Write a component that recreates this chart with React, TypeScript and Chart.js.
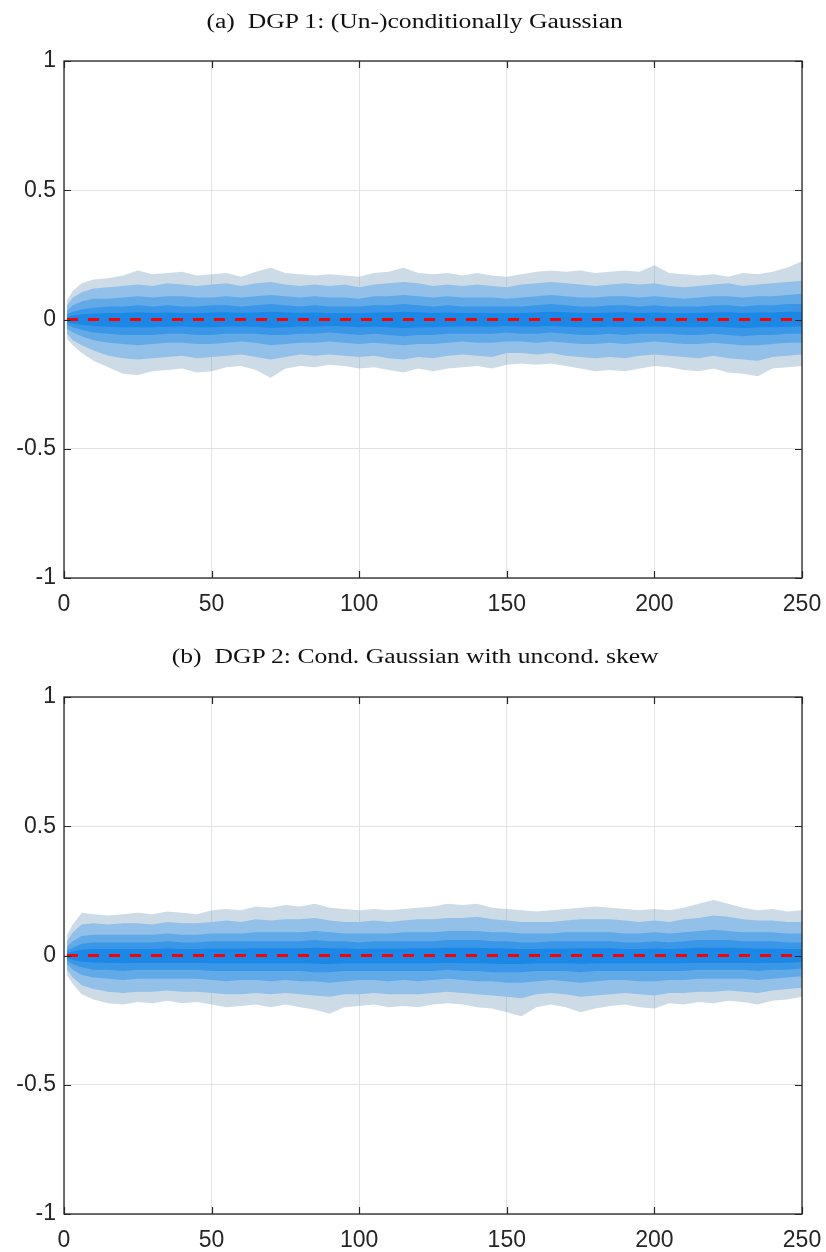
import React, { useEffect, useRef } from "react";
import { Chart, registerables } from "chart.js";

Chart.register(...registerables);

// ---------- data ----------
const T = [
  1, 3, 6, 10,
  15, 20, 25, 30, 35, 40, 45, 50,
  55, 60, 65, 70, 75, 80, 85, 90,
  95, 100, 105, 110, 115, 120, 125, 130,
  135, 140, 145, 150, 155, 160, 165, 170,
  175, 180, 185, 190, 195, 200, 205, 210,
  215, 220, 225, 230, 235, 240, 245, 250,
];
const X_TICKS = [0, 50, 100, 150, 200, 250];
const Y_TICKS = [-1, -0.5, 0, 0.5, 1];
const Y_TICK_LABELS = ["-1", "-0.5", "0", "0.5", "1"];
const TRUE_VALUE = 0;
const TITLE_A = "(a)  DGP 1: (Un-)conditionally Gaussian";
const TITLE_B = "(b)  DGP 2: Cond. Gaussian with uncond. skew";

// Panel (a): quantile band edges (inner 40/60 ... outer 5/95)
const A_U5 = [0.075, 0.11, 0.14, 0.155,
  0.16, 0.17, 0.19, 0.175, 0.18, 0.185, 0.17, 0.175,
  0.18, 0.165, 0.185, 0.2, 0.18, 0.175, 0.17, 0.175,
  0.17, 0.165, 0.18, 0.185, 0.2, 0.18, 0.175, 0.18,
  0.17, 0.18, 0.17, 0.165, 0.175, 0.185, 0.19, 0.185,
  0.19, 0.18, 0.185, 0.19, 0.185, 0.21, 0.18, 0.175,
  0.17, 0.175, 0.165, 0.18, 0.175, 0.185, 0.2, 0.225];
const A_L5 = [-0.075, -0.1, -0.13, -0.16,
  -0.185, -0.21, -0.215, -0.2, -0.195, -0.19, -0.205, -0.2,
  -0.185, -0.18, -0.195, -0.225, -0.19, -0.18, -0.185, -0.175,
  -0.18, -0.19, -0.185, -0.195, -0.205, -0.19, -0.2, -0.19,
  -0.185, -0.18, -0.19, -0.175, -0.17, -0.175, -0.17, -0.18,
  -0.19, -0.2, -0.195, -0.2, -0.19, -0.18, -0.185, -0.195,
  -0.2, -0.19, -0.205, -0.21, -0.22, -0.19, -0.185, -0.18];
const A_U4 = [0.055, 0.085, 0.105, 0.12,
  0.125, 0.13, 0.135, 0.13, 0.14, 0.135, 0.13, 0.135,
  0.14, 0.13, 0.14, 0.145, 0.135, 0.13, 0.135, 0.13,
  0.135, 0.125, 0.135, 0.14, 0.145, 0.14, 0.13, 0.135,
  0.13, 0.135, 0.13, 0.125, 0.135, 0.14, 0.145, 0.14,
  0.135, 0.13, 0.135, 0.14, 0.135, 0.14, 0.13, 0.125,
  0.13, 0.135, 0.14, 0.13, 0.135, 0.14, 0.145, 0.15];
const A_L4 = [-0.055, -0.08, -0.1, -0.12,
  -0.14, -0.15, -0.155, -0.15, -0.145, -0.14, -0.15, -0.145,
  -0.14, -0.135, -0.145, -0.155, -0.145, -0.135, -0.14, -0.135,
  -0.14, -0.145, -0.14, -0.15, -0.155, -0.145, -0.15, -0.14,
  -0.135, -0.14, -0.145, -0.13, -0.13, -0.135, -0.13, -0.14,
  -0.145, -0.15, -0.145, -0.15, -0.14, -0.135, -0.14, -0.145,
  -0.15, -0.14, -0.15, -0.155, -0.16, -0.145, -0.14, -0.135];
const A_U3 = [0.035, 0.055, 0.07, 0.08,
  0.08, 0.085, 0.09, 0.085, 0.09, 0.09, 0.085, 0.085,
  0.09, 0.085, 0.09, 0.095, 0.09, 0.085, 0.09, 0.085,
  0.085, 0.08, 0.09, 0.09, 0.095, 0.09, 0.085, 0.09,
  0.085, 0.085, 0.085, 0.08, 0.085, 0.09, 0.095, 0.09,
  0.085, 0.085, 0.09, 0.09, 0.085, 0.09, 0.085, 0.08,
  0.085, 0.09, 0.09, 0.085, 0.09, 0.09, 0.095, 0.1];
const A_L3 = [-0.035, -0.05, -0.065, -0.08,
  -0.09, -0.095, -0.1, -0.095, -0.09, -0.09, -0.095, -0.095,
  -0.09, -0.085, -0.09, -0.1, -0.095, -0.09, -0.09, -0.085,
  -0.09, -0.095, -0.09, -0.095, -0.1, -0.095, -0.095, -0.09,
  -0.085, -0.09, -0.09, -0.085, -0.085, -0.09, -0.085, -0.09,
  -0.095, -0.095, -0.09, -0.095, -0.09, -0.085, -0.09, -0.095,
  -0.095, -0.09, -0.095, -0.1, -0.1, -0.095, -0.09, -0.09];
const A_U2 = [0.02, 0.03, 0.04, 0.045,
  0.05, 0.05, 0.055, 0.05, 0.055, 0.05, 0.05, 0.055,
  0.055, 0.05, 0.055, 0.06, 0.055, 0.05, 0.055, 0.05,
  0.05, 0.05, 0.055, 0.055, 0.06, 0.055, 0.05, 0.055,
  0.05, 0.05, 0.05, 0.05, 0.05, 0.055, 0.06, 0.055,
  0.05, 0.05, 0.055, 0.055, 0.05, 0.055, 0.05, 0.05,
  0.05, 0.055, 0.055, 0.05, 0.055, 0.055, 0.06, 0.06];
const A_L2 = [-0.02, -0.03, -0.04, -0.05,
  -0.055, -0.06, -0.06, -0.06, -0.055, -0.055, -0.06, -0.06,
  -0.055, -0.055, -0.055, -0.06, -0.06, -0.055, -0.055, -0.05,
  -0.055, -0.06, -0.055, -0.06, -0.065, -0.06, -0.06, -0.055,
  -0.055, -0.055, -0.055, -0.05, -0.055, -0.055, -0.05, -0.055,
  -0.06, -0.06, -0.055, -0.06, -0.055, -0.055, -0.055, -0.06,
  -0.06, -0.055, -0.06, -0.065, -0.06, -0.06, -0.055, -0.055];
const A_U1 = [0.01, 0.015, 0.02, 0.022,
  0.025, 0.025, 0.028, 0.025, 0.027, 0.025, 0.024, 0.027,
  0.028, 0.025, 0.027, 0.03, 0.027, 0.025, 0.027, 0.024,
  0.025, 0.024, 0.027, 0.027, 0.03, 0.028, 0.025, 0.027,
  0.025, 0.025, 0.024, 0.024, 0.025, 0.027, 0.03, 0.028,
  0.025, 0.025, 0.027, 0.028, 0.025, 0.027, 0.025, 0.024,
  0.025, 0.027, 0.028, 0.025, 0.027, 0.027, 0.03, 0.03];
const A_L1 = [-0.01, -0.015, -0.02, -0.025,
  -0.028, -0.03, -0.03, -0.03, -0.028, -0.027, -0.03, -0.03,
  -0.027, -0.027, -0.028, -0.032, -0.03, -0.027, -0.028, -0.025,
  -0.027, -0.03, -0.028, -0.03, -0.033, -0.03, -0.03, -0.028,
  -0.027, -0.027, -0.028, -0.025, -0.027, -0.028, -0.025, -0.028,
  -0.03, -0.03, -0.028, -0.03, -0.028, -0.027, -0.028, -0.03,
  -0.03, -0.028, -0.03, -0.033, -0.03, -0.03, -0.028, -0.027];

// Panel (b)
const B_U5 = [0.08, 0.12, 0.165, 0.16,
  0.155, 0.16, 0.165, 0.16, 0.17, 0.165, 0.16, 0.175,
  0.18, 0.175, 0.19, 0.185, 0.195, 0.19, 0.2, 0.185,
  0.18, 0.175, 0.18, 0.175, 0.18, 0.185, 0.19, 0.2,
  0.195, 0.2, 0.185, 0.18, 0.175, 0.17, 0.175, 0.18,
  0.185, 0.19, 0.185, 0.18, 0.175, 0.18, 0.175, 0.185,
  0.2, 0.215, 0.2, 0.185, 0.175, 0.18, 0.17, 0.175];
const B_L5 = [-0.075, -0.11, -0.15, -0.17,
  -0.185, -0.19, -0.18, -0.185, -0.175, -0.185, -0.18, -0.19,
  -0.2, -0.195, -0.19, -0.2, -0.19, -0.2, -0.21, -0.225,
  -0.2, -0.195, -0.19, -0.2, -0.195, -0.2, -0.19, -0.185,
  -0.19, -0.2, -0.205, -0.22, -0.235, -0.2, -0.19, -0.2,
  -0.22, -0.205, -0.195, -0.19, -0.2, -0.205, -0.185, -0.19,
  -0.18, -0.185, -0.175, -0.18, -0.19, -0.175, -0.17, -0.16];
const B_U4 = [0.055, 0.09, 0.12, 0.125,
  0.12, 0.125, 0.125, 0.12, 0.13, 0.125, 0.125, 0.13,
  0.135, 0.13, 0.14, 0.135, 0.14, 0.14, 0.145, 0.135,
  0.13, 0.13, 0.135, 0.13, 0.135, 0.14, 0.14, 0.145,
  0.145, 0.15, 0.14, 0.135, 0.13, 0.13, 0.13, 0.135,
  0.14, 0.14, 0.14, 0.135, 0.13, 0.135, 0.13, 0.14,
  0.145, 0.155, 0.15, 0.14, 0.135, 0.135, 0.13, 0.13];
const B_L4 = [-0.055, -0.085, -0.115, -0.13,
  -0.14, -0.145, -0.14, -0.14, -0.135, -0.14, -0.14, -0.145,
  -0.15, -0.15, -0.145, -0.15, -0.145, -0.15, -0.155, -0.16,
  -0.15, -0.15, -0.145, -0.15, -0.15, -0.15, -0.145, -0.14,
  -0.145, -0.15, -0.155, -0.16, -0.165, -0.15, -0.145, -0.15,
  -0.16, -0.155, -0.15, -0.145, -0.15, -0.155, -0.145, -0.145,
  -0.14, -0.14, -0.135, -0.14, -0.145, -0.135, -0.13, -0.125];
const B_U3 = [0.035, 0.055, 0.075, 0.08,
  0.08, 0.08, 0.08, 0.08, 0.085, 0.08, 0.08, 0.085,
  0.085, 0.085, 0.09, 0.09, 0.09, 0.09, 0.095, 0.09,
  0.085, 0.085, 0.085, 0.085, 0.09, 0.09, 0.09, 0.095,
  0.095, 0.095, 0.09, 0.09, 0.085, 0.085, 0.085, 0.09,
  0.09, 0.09, 0.09, 0.085, 0.085, 0.09, 0.085, 0.09,
  0.095, 0.1, 0.095, 0.09, 0.09, 0.09, 0.085, 0.085];
const B_L3 = [-0.035, -0.055, -0.075, -0.085,
  -0.09, -0.095, -0.09, -0.09, -0.09, -0.09, -0.09, -0.095,
  -0.1, -0.095, -0.095, -0.1, -0.095, -0.1, -0.1, -0.105,
  -0.1, -0.095, -0.095, -0.1, -0.095, -0.1, -0.095, -0.09,
  -0.095, -0.1, -0.1, -0.105, -0.105, -0.1, -0.095, -0.1,
  -0.105, -0.1, -0.095, -0.095, -0.1, -0.1, -0.095, -0.095,
  -0.09, -0.09, -0.09, -0.09, -0.095, -0.09, -0.085, -0.08];
const B_U2 = [0.02, 0.03, 0.045, 0.05,
  0.05, 0.05, 0.05, 0.05, 0.055, 0.05, 0.05, 0.055,
  0.055, 0.055, 0.055, 0.055, 0.055, 0.055, 0.06, 0.055,
  0.055, 0.05, 0.055, 0.055, 0.055, 0.055, 0.055, 0.06,
  0.06, 0.06, 0.055, 0.055, 0.05, 0.05, 0.055, 0.055,
  0.055, 0.055, 0.055, 0.05, 0.05, 0.055, 0.05, 0.055,
  0.06, 0.06, 0.06, 0.055, 0.055, 0.055, 0.05, 0.05];
const B_L2 = [-0.02, -0.035, -0.045, -0.055,
  -0.055, -0.06, -0.055, -0.055, -0.055, -0.055, -0.055, -0.06,
  -0.06, -0.06, -0.06, -0.06, -0.06, -0.06, -0.065, -0.065,
  -0.06, -0.06, -0.06, -0.06, -0.06, -0.06, -0.06, -0.055,
  -0.06, -0.06, -0.065, -0.065, -0.065, -0.06, -0.06, -0.06,
  -0.065, -0.06, -0.06, -0.06, -0.06, -0.06, -0.06, -0.06,
  -0.055, -0.055, -0.055, -0.055, -0.06, -0.055, -0.055, -0.05];
const B_U1 = [0.01, 0.015, 0.022, 0.025,
  0.025, 0.025, 0.025, 0.025, 0.027, 0.025, 0.025, 0.027,
  0.027, 0.027, 0.028, 0.028, 0.028, 0.028, 0.03, 0.028,
  0.027, 0.025, 0.027, 0.027, 0.027, 0.028, 0.028, 0.03,
  0.03, 0.03, 0.028, 0.027, 0.025, 0.025, 0.027, 0.027,
  0.028, 0.028, 0.028, 0.025, 0.025, 0.027, 0.025, 0.027,
  0.03, 0.03, 0.03, 0.028, 0.027, 0.027, 0.025, 0.025];
const B_L1 = [-0.01, -0.017, -0.023, -0.027,
  -0.028, -0.03, -0.028, -0.028, -0.028, -0.028, -0.028, -0.03,
  -0.03, -0.03, -0.03, -0.03, -0.03, -0.03, -0.032, -0.033,
  -0.03, -0.03, -0.03, -0.03, -0.03, -0.03, -0.03, -0.028,
  -0.03, -0.03, -0.032, -0.033, -0.033, -0.03, -0.03, -0.03,
  -0.032, -0.03, -0.03, -0.03, -0.03, -0.03, -0.03, -0.03,
  -0.028, -0.028, -0.028, -0.028, -0.03, -0.028, -0.028, -0.025];

// inner -> outer
const BAND_COLORS = ["#1b87e6", "#3a97e8", "#62a9e8", "#92c0e8", "rgba(109,152,184,0.35)"];

const AXIS_COLOR = "#262626";
const GRID_COLOR = "#e3e3e3";
const TICK_FONT = { family: "'Liberation Sans', Arial, sans-serif", size: 23 };

const boxPlugin = {
  id: "matlabBox",
  afterDraw(chart: any) {
    const { ctx, chartArea: a, scales } = chart;
    const tl = 7;
    ctx.save();
    ctx.strokeStyle = AXIS_COLOR;
    ctx.lineWidth = 1.2;
    ctx.beginPath();
    X_TICKS.forEach((v) => {
      const px = Math.round(scales.x.getPixelForValue(v)) + 0.5;
      ctx.moveTo(px, a.bottom);
      ctx.lineTo(px, a.bottom - tl);
      ctx.moveTo(px, a.top);
      ctx.lineTo(px, a.top + tl);
    });
    Y_TICKS.forEach((v) => {
      const py = Math.round(scales.y.getPixelForValue(v)) + 0.5;
      ctx.moveTo(a.left, py);
      ctx.lineTo(a.left + tl, py);
      ctx.moveTo(a.right, py);
      ctx.lineTo(a.right - tl, py);
    });
    ctx.stroke();
    ctx.lineWidth = 1.3;
    ctx.strokeRect(a.left, a.top, a.right - a.left, a.bottom - a.top);
    ctx.restore();
  },
};

type PanelProps = {
  height: number;
  upper: number[][];
  lower: number[][];
};

function Panel({ height, upper, lower }: PanelProps) {
  const ref = useRef<HTMLCanvasElement | null>(null);
  useEffect(() => {
    if (!ref.current) return;
    const pts = (arr: number[]) => T.map((t, i) => ({ x: t, y: arr[i] }));
    const datasets: any[] = [
      {
        data: [
          { x: T[0], y: TRUE_VALUE },
          { x: T[T.length - 1], y: TRUE_VALUE },
        ],
        borderColor: "#ff0000",
        borderWidth: 3,
        borderDash: [11, 10],
        pointRadius: 0,
        fill: false,
      },
    ];
    upper.forEach((u, k) => {
      const idx = datasets.length;
      datasets.push({
        data: pts(u),
        borderWidth: 0,
        borderColor: "rgba(0,0,0,0)",
        pointRadius: 0,
        backgroundColor: BAND_COLORS[k],
        fill: idx + 1,
        tension: 0,
      });
      datasets.push({
        data: pts(lower[k]),
        borderWidth: 0,
        borderColor: "rgba(0,0,0,0)",
        pointRadius: 0,
        fill: false,
        tension: 0,
      });
    });
    const xAxisHeight = height - 578;
    const chart = new Chart(ref.current, {
      type: "line",
      data: { datasets },
      plugins: [boxPlugin],
      options: {
        animation: false,
        responsive: false,
        events: [],
        layout: { padding: { left: 0, top: 61, right: 24, bottom: 0 } },
        plugins: { legend: { display: false }, tooltip: { enabled: false } },
        scales: {
          x: {
            type: "linear",
            min: 0,
            max: 250,
            afterBuildTicks: (s: any) => {
              s.ticks = X_TICKS.map((v) => ({ value: v }));
            },
            afterFit: (s: any) => {
              s.height = xAxisHeight;
            },
            ticks: {
              color: AXIS_COLOR,
              font: TICK_FONT,
              padding: 0,
              maxRotation: 0,
              autoSkip: false,
            },
            grid: {
              color: GRID_COLOR,
              lineWidth: 1,
              drawTicks: true,
              tickLength: 13,
              tickColor: "rgba(0,0,0,0)",
            },
            border: { display: false },
          },
          y: {
            type: "linear",
            min: -1,
            max: 1,
            afterBuildTicks: (s: any) => {
              s.ticks = Y_TICKS.map((v) => ({ value: v }));
            },
            afterFit: (s: any) => {
              s.width = 64;
            },
            ticks: {
              color: AXIS_COLOR,
              font: TICK_FONT,
              padding: 8,
              callback: (v: any) => {
                const i = Y_TICKS.indexOf(Number(v));
                return i >= 0 ? Y_TICK_LABELS[i] : "";
              },
            },
            grid: { color: GRID_COLOR, lineWidth: 1, drawTicks: false },
            border: { display: false },
          },
        },
      } as any,
    });
    return () => chart.destroy();
  }, [height, upper, lower]);
  return <canvas ref={ref} width={826} height={height} style={{ display: "block" }} />;
}

const titleStyle: React.CSSProperties = {
  position: "absolute",
  left: 0,
  width: 830,
  textAlign: "center",
  fontFamily: "'Liberation Serif', 'Times New Roman', serif",
  fontSize: 20,
  whiteSpace: "pre",
  color: "#111",
  lineHeight: "24px",
};

const innerTitleStyle: React.CSSProperties = {
  display: "inline-block",
  transform: "scaleX(1.28)",
  transformOrigin: "center",
};

export default function App() {
  return (
    <div
      style={{
        position: "absolute",
        left: 0,
        top: 0,
        width: 826,
        height: 1252,
        overflow: "hidden",
        background: "#fff",
      }}
    >
      <div style={{ position: "absolute", left: 0, top: 0 }}>
        <Panel
          height={626}
          upper={[A_U1, A_U2, A_U3, A_U4, A_U5]}
          lower={[A_L1, A_L2, A_L3, A_L4, A_L5]}
        />
      </div>
      <div style={{ position: "absolute", left: 0, top: 636 }}>
        <Panel
          height={616}
          upper={[B_U1, B_U2, B_U3, B_U4, B_U5]}
          lower={[B_L1, B_L2, B_L3, B_L4, B_L5]}
        />
      </div>
      <div style={{ ...titleStyle, top: 9 }}>
        <span style={innerTitleStyle}>{TITLE_A}</span>
      </div>
      <div style={{ ...titleStyle, top: 644 }}>
        <span style={innerTitleStyle}>{TITLE_B}</span>
      </div>
    </div>
  );
}
